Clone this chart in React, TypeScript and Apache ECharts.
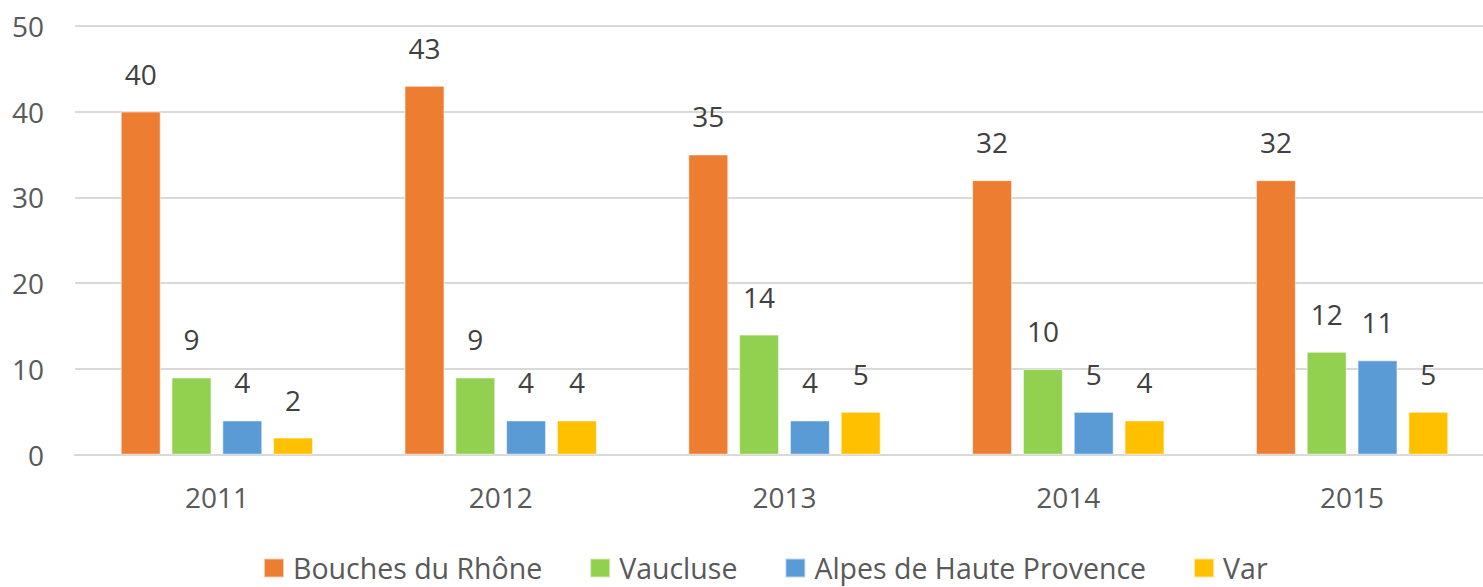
import React, { useEffect, useRef } from "react";
import * as echarts from "echarts";

const categories = ["2011", "2012", "2013", "2014", "2015"];
const seriesNames = ["Bouches du Rhône", "Vaucluse", "Alpes de Haute Provence", "Var"];
const bouches = [40, 43, 35, 32, 32];
const vaucluse = [9, 9, 14, 10, 12];
const alpes = [4, 4, 4, 5, 11];
const varDept = [2, 4, 5, 4, 5];
const colors = ["#ED7D31", "#92D050", "#5B9BD5", "#FFC000"];

const FONT = "'Open Sans', sans-serif";

export default function App() {
  const ref = useRef<HTMLDivElement>(null);
  useEffect(() => {
    if (!ref.current) return;
    const chart = echarts.init(ref.current, null, { renderer: "svg" });
    const data = [bouches, vaucluse, alpes, varDept];
    chart.setOption({
      animation: false,
      backgroundColor: "#ffffff",
      grid: { left: 75, right: 0, top: 25.7, bottom: 132.3, containLabel: false },
      legend: {
        left: 258,
        top: 549,
        padding: [4, 5, 0, 5],
        itemWidth: 20,
        itemHeight: 19,
        itemGap: 47,
        icon: "rect",
        textStyle: {
          fontFamily: FONT,
          fontSize: 28.5,
          lineHeight: 30,
          color: "#595959",
          padding: [0, 0, 0, 4],
        },
        data: seriesNames,
      },
      xAxis: {
        type: "category",
        data: categories,
        axisLine: { show: true, lineStyle: { color: "#d9d9d9", width: 2 } },
        axisTick: { show: false },
        axisLabel: { fontFamily: FONT, fontSize: 28, color: "#595959", margin: 28 },
      },
      yAxis: {
        type: "value",
        min: 0,
        max: 50,
        interval: 10,
        axisLine: { show: false },
        axisTick: { show: false },
        splitLine: { lineStyle: { color: "#d9d9d9", width: 2 } },
        axisLabel: { fontFamily: FONT, fontSize: 28, color: "#595959", margin: 31 },
      },
      series: seriesNames.map((name, i) => ({
        name,
        type: "bar",
        data: data[i],
        barWidth: 40,
        barGap: "27%",
        itemStyle: { color: colors[i], borderColor: "rgba(255,255,255,0.6)", borderWidth: 1 },
        label: {
          show: true,
          position: "top",
          distance: 24,
          fontFamily: FONT,
          fontSize: 28,
          color: "#404040",
        },
      })),
    });
    return () => chart.dispose();
  }, []);
  return (
    <div
      ref={ref}
      style={{ position: "fixed", left: 0, top: 0, width: 1494, height: 587 }}
    />
  );
}
